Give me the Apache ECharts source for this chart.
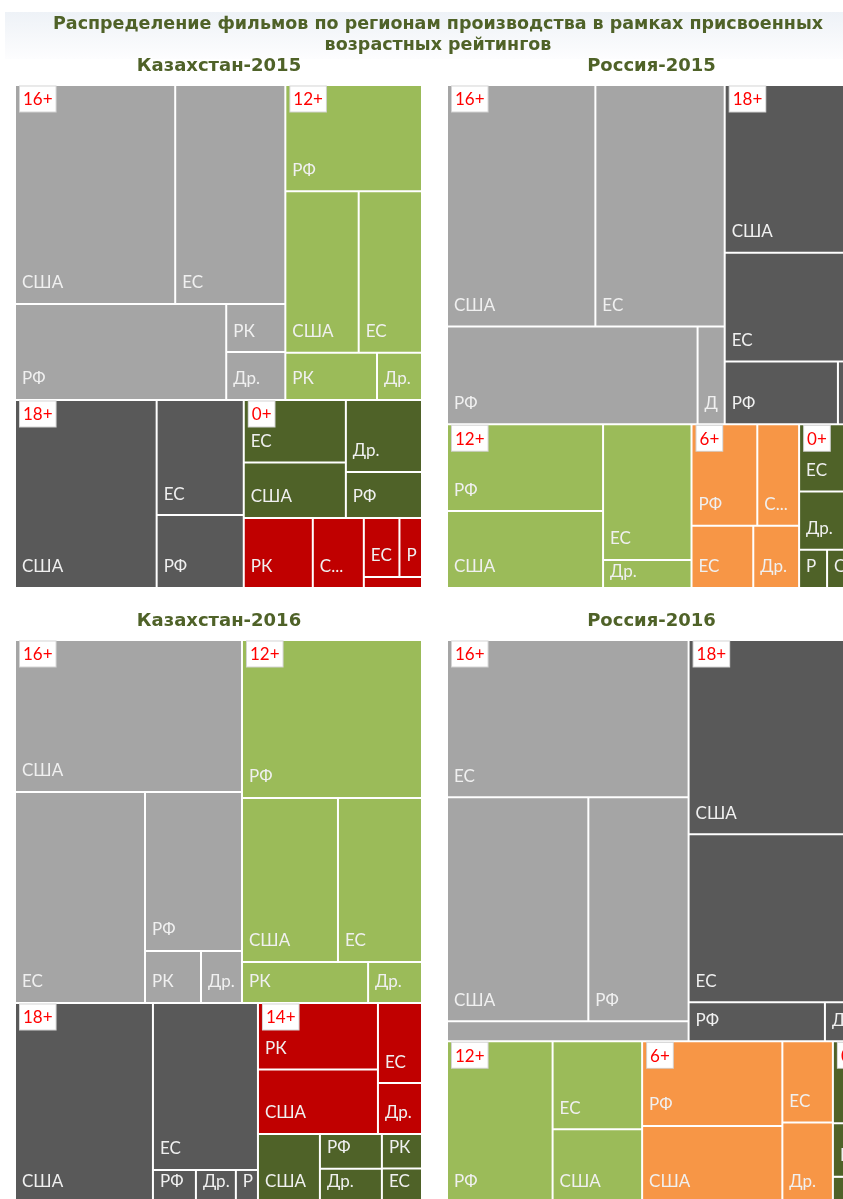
<!DOCTYPE html>
<html><head><meta charset="utf-8">
<script src="https://cdn.jsdelivr.net/npm/echarts@6/dist/echarts.min.js"></script>
<style>html,body{margin:0;padding:0;background:#fff;}#c{width:843px;height:1199px;}</style>
</head><body><div id="c"></div>
<script>
// ---------- DATA ----------
const TITLE_LINES = ['Распределение фильмов по регионам производства в рамках присвоенных', 'возрастных рейтингов'];
const CHART_TITLES = ['Казахстан-2015', 'Россия-2015', 'Казахстан-2016', 'Россия-2016'];

// Kazakhstan 2015
const KZ15_GROUPS = ['16+', '12+', '18+', '0+', '14+'];
const KZ15_TAGS = ['16+', '12+', '18+', '0+'];
const KZ15_REGIONS = [
  ['США', 'ЕС', 'РФ', 'РК', 'Др.'],
  ['РФ', 'США', 'ЕС', 'РК', 'Др.'],
  ['США', 'ЕС', 'РФ'],
  ['ЕС', 'США', 'Др.', 'РФ'],
  ['РК', 'США', 'ЕС', 'РФ', 'Др.']
];
const KZ15_VALUES = [
  [350.4, 240.9, 202.6, 28.4, 28.3],
  [145.2, 118.3, 102.1, 43.2, 21.2],
  [266.0, 100.1, 63.5],
  [63.7, 56.6, 54.7, 35.0],
  [48.3, 35.7, 21.0, 13.3, 6.4]
];

// Russia 2015
const RU15_GROUPS = ['16+', '18+', '12+', '6+', '0+'];
const RU15_TAGS = ['16+', '18+', '12+', '6+', '0+'];
const RU15_REGIONS = [
  ['США', 'ЕС', 'РФ', 'Др.'],
  ['США', 'ЕС', 'РФ', 'Др.'],
  ['РФ', 'США', 'ЕС', 'Др.'],
  ['РФ', 'США', 'ЕС', 'Др.'],
  ['ЕС', 'Др.', 'РФ', 'США']
];
const RU15_VALUES = [
  [358.2, 312.2, 245.0, 26.5],
  [216.7, 140.6, 71.2, 10.1],
  [135.3, 120.0, 119.9, 24.8],
  [66.7, 42.4, 38.4, 28.5],
  [36.9, 31.9, 10.7, 10.3]
];

// Kazakhstan 2016
const KZ16_GROUPS = ['16+', '12+', '18+', '14+', '0+'];
const KZ16_TAGS = ['16+', '12+', '18+', '14+'];
const KZ16_REGIONS = [
  ['США', 'ЕС', 'РФ', 'РК', 'Др.'],
  ['РФ', 'США', 'ЕС', 'РК', 'Др.'],
  ['США', 'ЕС', 'РФ', 'Др.', 'РК'],
  ['РК', 'США', 'ЕС', 'Др.'],
  ['США', 'РФ', 'Др.', 'РК', 'ЕС']
];
const KZ16_VALUES = [
  [345.0, 274.3, 154.2, 29.1, 21.3],
  [284.4, 157.4, 137.8, 51.7, 22.1],
  [276.0, 175.4, 14.2, 13.2, 7.3],
  [79.9, 77.3, 35.3, 22.4],
  [42.8, 21.5, 21.3, 13.9, 13.8]
];

// Russia 2016
const RU16_GROUPS = ['16+', '18+', '12+', '6+', '0+'];
const RU16_TAGS = ['16+', '18+', '12+', '6+', '0+'];
const RU16_REGIONS = [
  ['ЕС', 'США', 'РФ', 'Др.'],
  ['США', 'ЕС', 'РФ', 'Др.'],
  ['РФ', 'ЕС', 'США'],
  ['РФ', 'США', 'ЕС', 'Др.'],
  ['США', 'ЕС', 'РФ']
];
const RU16_VALUES = [
  [378.4, 315.8, 224.0, 48.2],
  [320.1, 277.2, 53.0, 11.3],
  [170.1, 78.3, 65.9],
  [118.3, 107.6, 40.8, 40.6],
  [17.2, 11.3, 5.5]
];

// ---------- STYLE ----------
const GROUP_COLORS = {'16+': '#a5a5a5', '18+': '#595959', '12+': '#9bbb59', '14+': '#c00000', '6+': '#f79646', '0+': '#4f6228'};
const TITLE_COLOR = '#4f6228';
const LABEL_FONT = 'Lato';

const CHARTS = [
  {groups: KZ15_GROUPS, tags: KZ15_TAGS, regions: KZ15_REGIONS, values: KZ15_VALUES, box: [15, 85, 407, 503], ratio: 1.3, titleX: 219, titleY: 66},
  {groups: RU15_GROUPS, tags: RU15_TAGS, regions: RU15_REGIONS, values: RU15_VALUES, box: [447, 85, 407, 503], ratio: 1.45, titleX: 651.5, titleY: 66},
  {groups: KZ16_GROUPS, tags: KZ16_TAGS, regions: KZ16_REGIONS, values: KZ16_VALUES, box: [15, 640, 407, 563], ratio: 1.2, titleX: 219, titleY: 621},
  {groups: RU16_GROUPS, tags: RU16_TAGS, regions: RU16_REGIONS, values: RU16_VALUES, box: [447, 640, 407, 563], ratio: 1.25, titleX: 651.5, titleY: 621}
];

function buildData(c, overlay) {
  return c.groups.map(function (g, gi) {
    return {
      name: g,
      itemStyle: {color: overlay ? 'rgba(0,0,0,0)' : GROUP_COLORS[g]},
      children: c.regions[gi].map(function (r, ri) {
        const item = {name: r, value: c.values[gi][ri]};
        if (overlay) {
          const tagged = ri === 0 && c.tags.indexOf(g) >= 0;
          item.label = tagged ? {show: true, formatter: '{t|' + g + '}'} : {show: false};
        }
        return item;
      })
    };
  });
}

function bottomLeftLabel(p) {
  const r = p.rect;
  const cy = Math.max(r.y + 11, r.y + r.height - 20);
  return {x: r.x + 6, y: cy - 11, align: 'left', verticalAlign: 'top'};
}

function makeSeries(c, overlay) {
  const clear = 'rgba(0,0,0,0)';
  const s = {
    type: 'treemap',
    left: c.box[0], top: c.box[1], width: c.box[2], height: c.box[3],
    squareRatio: c.ratio,
    sort: 'desc',
    roam: false,
    nodeClick: false,
    silent: overlay,
    animation: false,
    visibleMin: 0,
    breadcrumb: {show: false},
    emphasis: {disabled: true},
    upperLabel: {show: false},
    levels: [
      {itemStyle: {borderWidth: 0, gapWidth: 0, borderColor: clear}},
      {itemStyle: {borderWidth: 0, gapWidth: 0, borderColor: clear}},
      {itemStyle: {borderWidth: overlay ? 0 : 1, gapWidth: 0, borderColor: overlay ? clear : '#ffffff'}}
    ],
    data: buildData(c, overlay)
  };
  if (overlay) {
    s.label = {
      show: false, position: [5, 5], distance: 0, padding: 0,
      rich: {t: {color: '#ff0000', backgroundColor: '#ffffff', fontFamily: LABEL_FONT, fontSize: 17, lineHeight: 18,
                 padding: [5, 3, 3, 3], borderColor: '#d4d4d4', borderWidth: 1}}
    };
  } else {
    s.label = {
      show: true, formatter: '{b}', color: '#f0f0f0', fontFamily: LABEL_FONT, fontSize: 17,
      lineHeight: 22, padding: [0, 8, 0, 0], overflow: 'truncate', ellipsis: '...'
    };
    s.labelLayout = bottomLeftLabel;
  }
  return s;
}

const series = [];
CHARTS.forEach(function (c) { series.push(makeSeries(c, false)); });
CHARTS.forEach(function (c) { series.push(makeSeries(c, true)); });

const graphic = [
  {type: 'rect', shape: {x: 5, y: 12, width: 838, height: 47}, silent: true, z: -10,
   style: {fill: {type: 'linear', x: 0, y: 0, x2: 0, y2: 1, colorStops: [{offset: 0, color: '#eef2f7'}, {offset: 1, color: '#fdfdfe'}]}}},
  {type: 'text', x: 438, y: 14, silent: true,
   style: {text: TITLE_LINES.join('\n'), align: 'center', verticalAlign: 'top', lineHeight: 21,
           fill: TITLE_COLOR, font: 'bold 17.5px "DejaVu Sans"'}}
];
CHARTS.forEach(function (c, i) {
  graphic.push({type: 'text', x: c.titleX, y: c.titleY, silent: true,
    style: {text: CHART_TITLES[i], align: 'center', verticalAlign: 'middle', fill: TITLE_COLOR, font: 'bold 18px "DejaVu Sans"'}});
});

const chart = echarts.init(document.getElementById('c'), null, {renderer: 'canvas'});
chart.setOption({animation: false, graphic: graphic, series: series});
</script></body></html>
